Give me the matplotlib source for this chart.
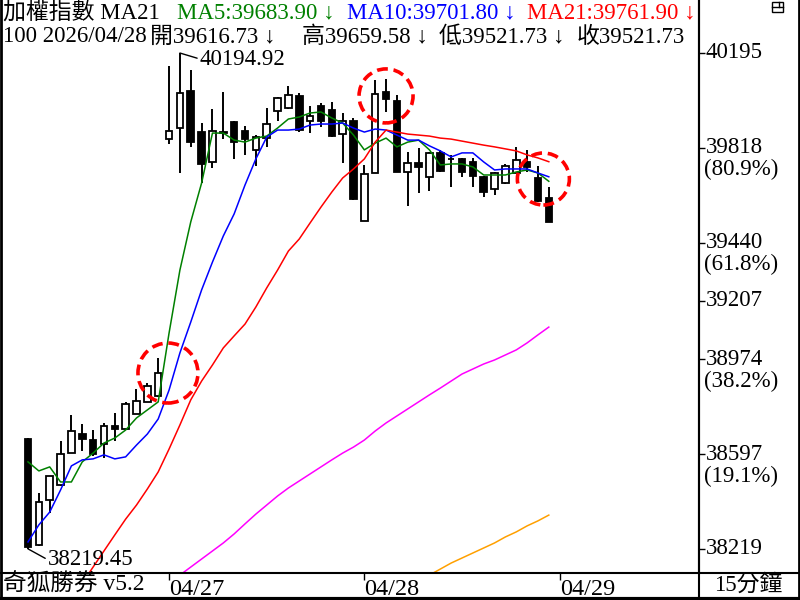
import matplotlib
matplotlib.use('Agg')
import matplotlib.pyplot as plt
from matplotlib.patches import Ellipse, Rectangle
from matplotlib.lines import Line2D

FONT = ['Liberation Serif', 'Noto Sans CJK TC', 'DejaVu Sans']
plt.rcParams['font.family'] = FONT

# ---------------- data ----------------
opens = [38657, 38235, 38414, 38474, 38601, 38677, 38653, 38637, 38709, 38697, 38757, 38805, 38828,
         39852, 39896, 40044, 39880, 39761, 39882, 39920, 39884, 39809, 39856, 39964, 39976, 40024, 39924, 39984, 39968, 39872, 39924,
         39526, 39717, 40040, 40004, 39721, 39757, 39701, 39797, 39773, 39773, 39761, 39701, 39653, 39677, 39717, 39761, 39697, 39616.73]
highs = [38661, 38442, 38510, 38649, 38753, 38717, 38693, 38721, 38761, 38805, 38856, 38880, 38980,
         40143, 40194.92, 40127, 39916, 39972, 40040, 39924, 39904, 39868, 39976, 40020, 40064, 40036, 39984, 39996, 40000, 39956, 39936,
         39749, 40087, 40091, 40028, 39801, 39817, 39801, 39809, 39789, 39775, 39777, 39703, 39721, 39753, 39821, 39809, 39745, 39659.58]
lows = [38219.45, 38231, 38362, 38470, 38600, 38609, 38589, 38581, 38649, 38693, 38755, 38803, 38826,
        39832, 39717, 39821, 39677, 39737, 39852, 39773, 39789, 39745, 39821, 39924, 39972, 39880, 39876, 39900, 39862, 39757, 39611,
        39524, 39715, 39960, 39719, 39585, 39637, 39645, 39721, 39661, 39701, 39661, 39621, 39629, 39675, 39715, 39721, 39603, 39521.73]
closes = [38227, 38406, 38510, 38597, 38689, 38657, 38597, 38709, 38697, 38797, 38809, 38868, 38920,
          39884, 40036, 39840, 39753, 39884, 39878, 39840, 39852, 39860, 39912, 40016, 40028, 39888, 39944, 39924, 39864, 39924, 39613,
          39713, 40032, 40012, 39721, 39757, 39741, 39797, 39725, 39771, 39721, 39705, 39641, 39717, 39745, 39769, 39741, 39605, 39521.73]

ma5 = [38566, 38530, 38546, 38486, 38486, 38566, 38601, 38641, 38661, 38693, 38741, 38773, 38805,
       39079, 39330, 39522, 39677, 39876, 39876, 39848, 39840, 39856, 39864, 39896, 39932, 39940, 39956, 39960, 39936, 39916, 39868,
       39809, 39836, 39856, 39821, 39840, 39848, 39809, 39749, 39753, 39753, 39741, 39709, 39709, 39709, 39721, 39729, 39717, 39683.90]
ma10 = [38247, 38315, 38366, 38454, 38550, 38574, 38578, 38594, 38578, 38586, 38633, 38677, 38737,
        38852, 39000, 39123, 39251, 39362, 39466, 39554, 39669, 39773, 39860, 39888, 39888, 39892, 39908, 39912, 39912, 39916, 39896,
        39880, 39892, 39888, 39868, 39848, 39848, 39825, 39805, 39781, 39797, 39797, 39761, 39729, 39733, 39733, 39733, 39717, 39701.80]
ma21_start = 5
ma21 = [38083, 38147, 38211, 38275, 38338, 38394, 38458, 38526,
        38617, 38713, 38813, 38888, 38952, 39020, 39068, 39115, 39183, 39259, 39330, 39406, 39454, 39518, 39581, 39641, 39697, 39733,
        39773, 39840, 39888, 39880, 39872, 39868, 39864, 39856, 39852, 39844, 39836, 39828, 39821, 39813, 39805, 39789, 39777, 39761.90]
ma_magenta_start = 14
ma_magenta = [38115, 38147, 38179, 38211, 38243, 38279, 38319, 38358, 38394, 38430, 38462, 38490, 38518, 38546, 38574, 38601,
              38625, 38653, 38689, 38721, 38749, 38777, 38805, 38833, 38860, 38888, 38916, 38936, 38956, 38972, 38992, 39012,
              39040, 39072, 39103]
ma_orange_start = 37
ma_orange = [38115, 38139, 38163, 38183, 38203, 38223, 38243, 38267, 38287, 38311, 38331, 38354]

date_ticks = [13, 31, 49]
date_labels = ['04/27', '04/28', '04/29']
price_ticks = [40195, 39818, 39440, 39207, 38974, 38597, 38219]
fib_ticks = [39818, 39440, 38974, 38597]
fib_labels = ['(80.9%)', '(61.8%)', '(38.2%)', '(19.1%)']

high_label = '40194.92'
low_label = '38219.45'
high_idx, low_idx = 14, 0

circle_centers = [(12.9, 38920), (33.0, 40024), (47.5, 39693)]
circle_radius_px = [30, 27, 26]

header1 = [('加權指數 MA21', 'black', 3), ('MA5:39683.90 ↓', '#008000', 177),
           ('MA10:39701.80 ↓', '#0000FF', 347), ('MA21:39761.90 ↓', '#FF0000', 527)]
header2 = [('100 2026/04/28', 3), ('開39616.73 ↓', 150), ('高39659.58 ↓', 302),
           ('低39521.73 ↓', 439), ('收39521.73', 577)]

# ---------------- figure ----------------
W, H = 800, 600
fig = plt.figure(figsize=(8, 6), dpi=100)
fig.patch.set_facecolor('white')
ax_l, ax_r, ax_t, ax_b = 1, 699, 0, 573
ax = fig.add_axes([ax_l / W, (H - ax_b) / H, (ax_r - ax_l) / W, (ax_b - ax_t) / H])

x0_px, dx_px = 28, 10.85
xmin = (ax_l - x0_px) / dx_px
xmax = (ax_r - x0_px) / dx_px
ppx = 3.984
ymax = 40195 + (53 - ax_t) * ppx
ymin = 40195 - (ax_b - 53) * ppx
ax.set_xlim(xmin, xmax)
ax.set_ylim(ymin, ymax)

FS = 16.5
n = len(closes)
xs = list(range(n))

# wicks
ax.vlines(xs, lows, highs, color='black', lw=1.4, zorder=2)
# bodies
for i in xs:
    o, c = opens[i], closes[i]
    up = c > o
    bottom = min(o, c)
    height = abs(c - o)
    ax.bar(i, height, bottom=bottom, width=0.6,
           facecolor='white' if up else 'black', edgecolor='black', lw=1.3, zorder=3)

ax.plot(xs, ma5, color='#008000', lw=1.1, zorder=4)
ax.plot(xs, ma10, color='#0000FF', lw=1.1, zorder=4)
ax.plot(range(ma21_start, ma21_start + len(ma21)), ma21, color='#FF0000', lw=1.1, zorder=4)
ax.plot(range(ma_magenta_start, ma_magenta_start + len(ma_magenta)), ma_magenta, color='#FF00FF', lw=1.1, zorder=4)
ax.plot(range(ma_orange_start, ma_orange_start + len(ma_orange)), ma_orange, color='#FFA000', lw=1.1, zorder=4)

# circles (pixel radius converted to data units)
for (cx, cy), r in zip(circle_centers, circle_radius_px):
    e = Ellipse((cx, cy), width=2 * r / dx_px, height=2 * r * ppx, fill=False,
                edgecolor='#FF0000', lw=2.6, linestyle=(0, (3, 1.6)), zorder=6)
    ax.add_patch(e)

# high / low annotations
ax.annotate(high_label, xy=(high_idx, highs[high_idx]), xytext=(20 * 0.72, -6 * 0.72),
            textcoords='offset points', ha='left', va='center', fontsize=FS,
            arrowprops=dict(arrowstyle='-', lw=1.0, color='black', shrinkA=0, shrinkB=0, relpos=(0, 0.5)),
            zorder=7)
ax.annotate(low_label, xy=(low_idx, lows[low_idx]), xytext=(20 * 0.72, -11 * 0.72),
            textcoords='offset points', ha='left', va='center', fontsize=FS,
            arrowprops=dict(arrowstyle='-', lw=1.0, color='black', shrinkA=0, shrinkB=0, relpos=(0, 0.5)),
            zorder=7)

# axes styling
for s in ['top', 'bottom', 'left']:
    ax.spines[s].set_visible(False)
ax.spines['right'].set_linewidth(1.5)
ax.yaxis.tick_right()
ax.set_yticks(price_ticks)
ax.set_yticklabels([str(v) for v in price_ticks])
ax.tick_params(axis='y', direction='out', length=4, width=1, pad=1, labelsize=FS)
for p, lab in zip(fib_ticks, fib_labels):
    ax.annotate(lab, xy=(1, p), xycoords=('axes fraction', 'data'), xytext=(5 * 0.72, -22 * 0.72),
                textcoords='offset points', ha='left', va='center', fontsize=FS, annotation_clip=False)
for lab in ax.get_yticklabels():
    lab.set_verticalalignment('center')

ax.set_xticks(date_ticks)
ax.set_xticklabels(date_labels)
ax.tick_params(axis='x', direction='out', length=5, width=1, pad=-1, labelsize=17.5)
for lab in ax.get_xticklabels():
    lab.set_horizontalalignment('left')

# header text
for txt, col, x in header1:
    fig.text(x / W, 1 - 13 / H, txt, color=col, fontsize=FS, ha='left', va='center')
for txt, x in header2:
    fig.text(x / W, 1 - 37 / H, txt, color='black', fontsize=FS, ha='left', va='center')

# bottom strip
fig.text(3 / W, 1 - 585 / H, '奇狐勝券 v5.2', fontsize=17, ha='left', va='center')
fig.text(748 / W, 1 - 585 / H, '15分鐘', fontsize=FS, ha='center', va='center')

# frame lines in figure pixels
def fline(x1, y1, x2, y2, lw):
    fig.add_artist(Line2D([x1 / W, x2 / W], [1 - y1 / H, 1 - y2 / H], color='black', lw=lw,
                          transform=fig.transFigure))

fline(0.8, 0, 0.8, 600, 2)
fline(798.5, 0, 798.5, 600, 2)
fline(0, 598.5, 800, 598.5, 3)
fline(699, 0, 699, 598, 1.5)
fline(0, 573, 799, 573, 1.5)

# small icon at top right
fig.add_artist(Rectangle((772 / W, 1 - 12 / H), 11 / W, 10 / H, fill=False, edgecolor='black',
                         lw=1, transform=fig.transFigure))
fline(772, 7, 783, 7, 1)
fline(779, 2, 779, 7, 1)

fig.savefig('out.png', dpi=100, facecolor='white')
